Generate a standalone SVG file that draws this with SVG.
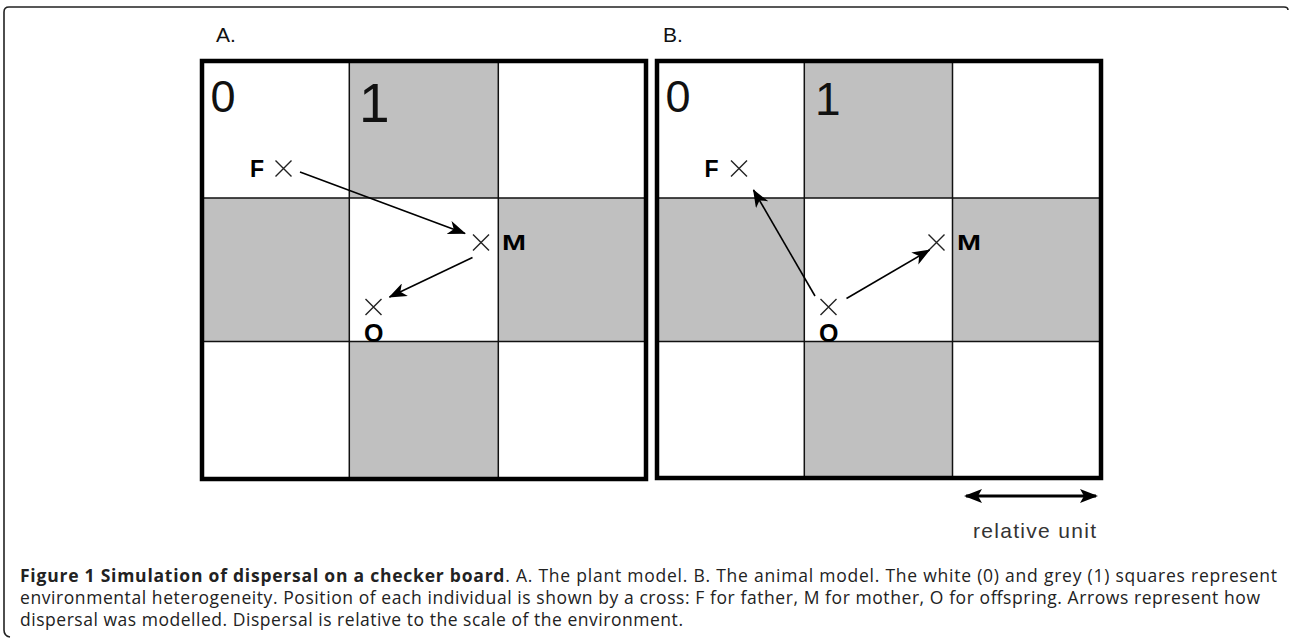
<svg xmlns="http://www.w3.org/2000/svg" width="1290" height="638" viewBox="0 0 1290 638">
<style>
.frame{fill:none;stroke:#222;stroke-width:1.6}
.gray{fill:#c0c0c0}
.white{fill:#fff}
.grid{stroke:#111;stroke-width:1.5;fill:none}
.border{fill:none;stroke:#000;stroke-width:4.5}
.digit{font-family:"Liberation Sans",Arial,sans-serif;fill:#111}
.plab{font-family:"Liberation Sans",Arial,sans-serif;font-size:21px;fill:#111}
.ind{font-family:"Liberation Sans",Arial,sans-serif;font-weight:bold;fill:#000}
.cross{stroke:#222;stroke-width:1.4;fill:none}
.arr{stroke:#000;stroke-width:1.6;fill:none;marker-end:url(#ah)}
.cap{font-family:"Open Sans","Noto Sans",sans-serif;font-size:17.5px;fill:#222}
</style>
<defs>
<marker id="ah" viewBox="0 0 18 14" refX="17" refY="7" markerWidth="18" markerHeight="14" markerUnits="userSpaceOnUse" orient="auto">
<path d="M0,0 L18,7 L0,14 L5,7 Z" fill="#000"/>
</marker>
<marker id="ah2" viewBox="0 0 18 14" refX="16" refY="7" markerWidth="18" markerHeight="14" markerUnits="userSpaceOnUse" orient="auto-start-reverse">
<path d="M0,0 L18,7 L0,14 L4,7 Z" fill="#000"/>
</marker>
</defs>
<rect width="1290" height="638" fill="#fff"/>
<path class="frame" d="M1288,10 Q1288,7 1284,7 L9,7 Q4,7 4,12 L4,630 Q4,636 10,637"/>

<g id="panelA">
<text class="plab" x="216" y="42">A.</text>
<g id="boardA">
<rect class="white" x="202" y="61" width="444" height="418"/>
<rect class="gray" x="349.3" y="61" width="149" height="137"/>
<rect class="gray" x="202" y="198" width="147.3" height="143.5"/>
<rect class="gray" x="498.3" y="198" width="147.7" height="143.5"/>
<rect class="gray" x="349.3" y="341.5" width="149" height="137.5"/>
<path class="grid" d="M349.3,61 V479 M498.3,61 V479 M202,198 H646 M202,341.5 H646"/>
<rect class="border" x="202" y="61" width="444" height="418"/>
</g>
<text class="digit" x="210.5" y="112" font-size="45">0</text>
<text class="digit" x="359" y="121.5" font-size="55">1</text>
</g>

<g id="panelB">
<text class="plab" x="663" y="42">B.</text>
<g id="boardB">
<rect class="white" x="657" y="61" width="444" height="417"/>
<rect class="gray" x="804.3" y="61" width="148.2" height="137"/>
<rect class="gray" x="657" y="198" width="147.3" height="143.5"/>
<rect class="gray" x="952.5" y="198" width="148.5" height="143.5"/>
<rect class="gray" x="804.3" y="341.5" width="148.2" height="136.5"/>
<path class="grid" d="M804.3,61 V478 M952.5,61 V478 M657,198 H1101 M657,341.5 H1101"/>
<rect class="border" x="657" y="61" width="444" height="417"/>
</g>
<text class="digit" x="665.5" y="112" font-size="45">0</text>
<text class="digit" x="815" y="115" font-size="46">1</text>
</g>

<g id="A-F">
<text class="ind" x="250" y="177" font-size="23">F</text>
<path class="cross" d="M275.5,160.5 L291.5,176.5 M291.5,160.5 L275.5,176.5"/>
</g>
<g id="A-M">
<path class="cross" d="M473,234.5 L489,250.5 M489,234.5 L473,250.5"/>
<text class="ind" x="502" y="250" font-size="22" textLength="24" lengthAdjust="spacingAndGlyphs">M</text>
</g>
<g id="A-O">
<path class="cross" d="M365.5,299 L381.5,315 M381.5,299 L365.5,315"/>
<text class="ind" x="364" y="341.5" font-size="25">O</text>
</g>

<g id="B-F">
<text class="ind" x="704.5" y="177" font-size="23">F</text>
<path class="cross" d="M731,160.5 L747,176.5 M747,160.5 L731,176.5"/>
</g>
<g id="B-M">
<path class="cross" d="M928.5,234.5 L944.5,250.5 M944.5,234.5 L928.5,250.5"/>
<text class="ind" x="957" y="250" font-size="22" textLength="24" lengthAdjust="spacingAndGlyphs">M</text>
</g>
<g id="B-O">
<path class="cross" d="M820.5,299 L836.5,315 M836.5,299 L820.5,315"/>
<text class="ind" x="819" y="341.5" font-size="25">O</text>
</g>

<g id="connectors">
<line class="arr" x1="300" y1="172" x2="465" y2="233.5"/>
<line class="arr" x1="472.5" y1="257.5" x2="389.5" y2="297"/>
<line class="arr" x1="815" y1="296" x2="753.5" y2="190"/>
<line class="arr" x1="846.5" y1="298.5" x2="929.5" y2="250"/>
<line x1="966" y1="496" x2="1096" y2="496" stroke="#000" stroke-width="3" marker-start="url(#ah2)" marker-end="url(#ah2)"/>
</g>
<text x="973" y="538" font-family="'Liberation Sans',Arial,sans-serif" font-size="21" fill="#333" textLength="123" lengthAdjust="spacing">relative unit</text>

<g id="caption">
<text class="cap" x="20" y="582" textLength="1257" lengthAdjust="spacing"><tspan font-weight="bold">Figure 1 Simulation of dispersal on a checker board</tspan>. A. The plant model. B. The animal model. The white (0) and grey (1) squares represent</text>
<text class="cap" x="20" y="604" textLength="1240" lengthAdjust="spacing">environmental heterogeneity. Position of each individual is shown by a cross: F for father, M for mother, O for offspring. Arrows represent how</text>
<text class="cap" x="20" y="626" textLength="663" lengthAdjust="spacing">dispersal was modelled. Dispersal is relative to the scale of the environment.</text>
</g>
</svg>
